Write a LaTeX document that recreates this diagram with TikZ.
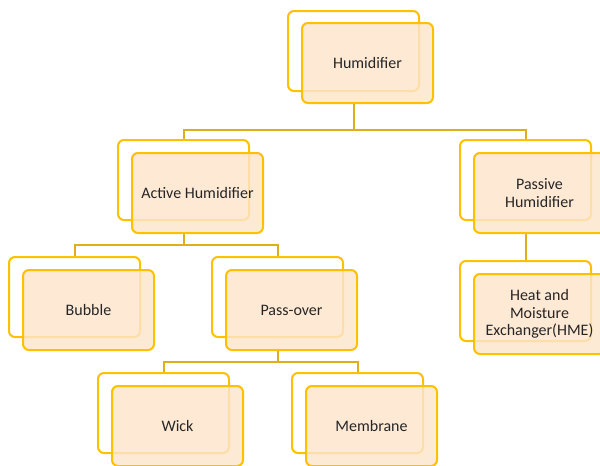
\documentclass[tikz,border=0pt]{standalone}
\usepackage{fontspec}
\setmainfont{Carlito}
\begin{document}
\begin{tikzpicture}[x=1pt,y=-1pt,
  backbox/.style={draw=boxgold, line width=2pt, fill=white, rounded corners=6pt,
    minimum width=131pt, minimum height=80pt, anchor=north west, inner sep=0pt},
  frontbox/.style={draw=boxgold, line width=2pt, fill=peach, fill opacity=0.82, text opacity=1,
    rounded corners=6pt, minimum width=131pt, minimum height=80pt, anchor=north west,
    inner sep=2pt, align=center, text=textgray, font=\fontsize{16}{17.5}\selectfont},
  conn/.style={draw=conngold, line width=2pt}]
\definecolor{boxgold}{HTML}{FFC000}
\definecolor{peach}{HTML}{FDE5CB}
\definecolor{conngold}{HTML}{E0AE1A}
\definecolor{textgray}{HTML}{262626}
\useasboundingbox (0,0) rectangle (600,466);
\clip (0,0) rectangle (600,466);
% back boxes
\node[backbox] (topB) at (287,10) {};
\node[backbox] (actB) at (117,139) {};
\node[backbox] (pasB) at (459,139) {};
\node[backbox] (bubB) at (8,256) {};
\node[backbox] (povB) at (211,256) {};
\node[backbox] (hmeB) at (459,260) {};
\node[backbox] (wicB) at (97,372) {};
\node[backbox] (memB) at (291,372) {};
% front boxes
\node[frontbox] (topF) at (301,22) {Humidifier};
\node[frontbox] (actF) at (131,152) {Active Humidifier};
\node[frontbox] (pasF) at (473,152) {Passive\\Humidifier};
\node[frontbox] (bubF) at (22,269) {Bubble};
\node[frontbox] (povF) at (225,269) {Pass-over};
\node[frontbox] (hmeF) at (473,273) {Heat and\\Moisture\\Exchanger(HME)};
\node[frontbox] (wicF) at (111,385) {Wick};
\node[frontbox] (memF) at (305,385) {Membrane};
% connectors
\draw[conn] (topF.south -| topB.south) -- ++(0,26) -| (actB.north);
\draw[conn] (topF.south -| topB.south) -- ++(0,26) -| (pasB.north);
\draw[conn] (actF.south -| actB.south) -- ++(0,11) -| (bubB.north);
\draw[conn] (actF.south -| actB.south) -- ++(0,11) -| (povB.north);
\draw[conn] (pasF.south -| pasB.south) -- (hmeB.north);
\draw[conn] (povF.south -| povB.south) -- ++(0,11) -| (wicB.north);
\draw[conn] (povF.south -| povB.south) -- ++(0,11) -| (memB.north);
\end{tikzpicture}
\end{document}
